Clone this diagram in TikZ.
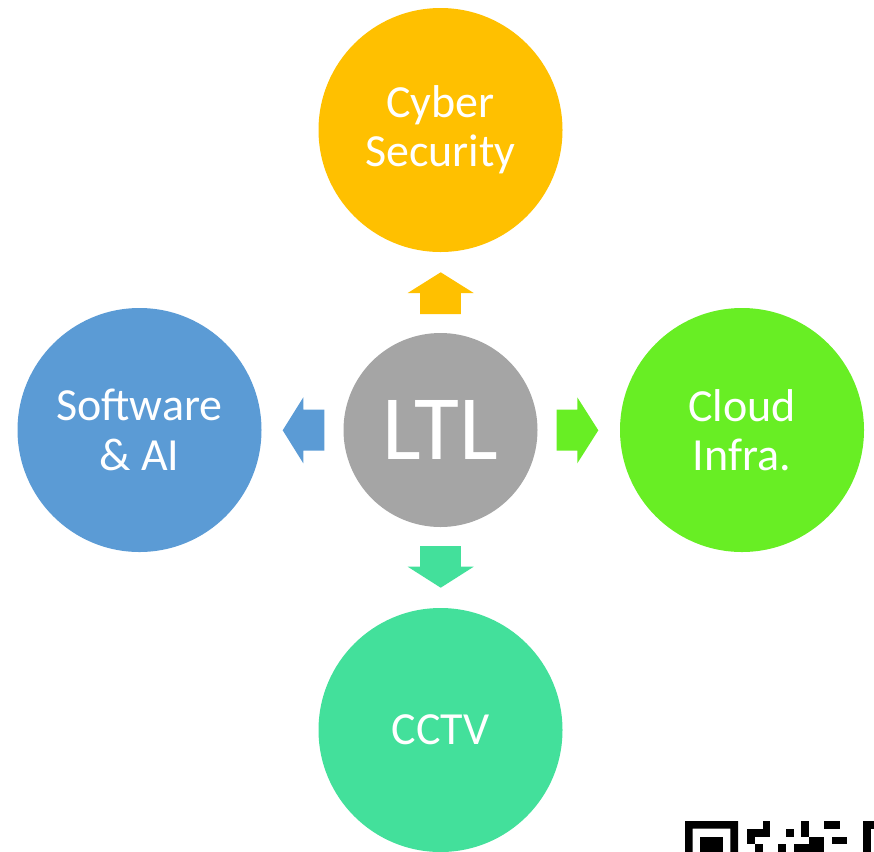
\documentclass[tikz,border=0pt]{standalone}
\usepackage{fontspec}
\setmainfont{Carlito}
\definecolor{cyberclr}{RGB}{255,192,0}
\definecolor{softclr}{RGB}{91,155,213}
\definecolor{cloudclr}{RGB}{104,238,36}
\definecolor{cctvclr}{RGB}{67,224,155}
\definecolor{ltlclr}{RGB}{165,165,165}

\begin{document}
\begin{tikzpicture}[x=0.75pt,y=0.75pt,yscale=-1,
  topic/.style={circle,inner sep=0pt,minimum size=183pt,text=white,align=center,
    font=\fontsize{34.5}{37}\selectfont},
  hub/.style={circle,inner sep=0pt,minimum size=145.5pt,fill=ltlclr,text=white,
    font=\fontsize{69}{70}\selectfont}]
\path[use as bounding box] (0,0) rectangle (874,851);

%Shape: Circle - centre
\node [hub] (ltl) at (440.5,430) {LTL};
%Shape: Circle - top
\node [topic,fill=cyberclr] (cyber) at (440.5,130) {Cyber\\Security};
%Shape: Circle - left
\node [topic,fill=softclr] (soft) at (139.5,430) {Software\\\& AI};
%Shape: Circle - right
\node [topic,fill=cloudclr] (cloud) at (742,430) {Cloud\\Infra.};
%Shape: Circle - bottom
\node [topic,fill=cctvclr] (cctv) at (440.5,730) {CCTV};

%Shape: Up Arrow
\fill [cyberclr] (420.2,314) -- (420.2,293) -- (407.7,293) -- (440.7,272.3) -- (473.7,293) -- (460.8,293) -- (460.8,314) -- cycle ;
%Shape: Down Arrow
\fill [cctvclr] (420.2,546) -- (420.2,566.7) -- (407.7,566.7) -- (440.7,587.7) -- (473.7,566.7) -- (460.8,566.7) -- (460.8,546) -- cycle ;
%Shape: Right Arrow
\fill [cloudclr] (556.7,409.7) -- (577.3,409.7) -- (577.3,397.3) -- (598.3,430.3) -- (577.3,463.3) -- (577.3,450.7) -- (556.7,450.7) -- cycle ;
%Shape: Left Arrow
\fill [softclr] (324.3,409.7) -- (303.3,409.7) -- (303.3,397.3) -- (282.7,430.3) -- (303.3,463.3) -- (303.3,450.7) -- (324.3,450.7) -- cycle ;

%Shape: QR corner (cut off)
\fill [black,even odd rule] (685,821) rectangle (738,855) (692.7,828.7) rectangle (730.3,855) ;
\fill [black] (700,836.7) rectangle (723,855) ;
\foreach \c/\r in {2/0,7/0,10/0,11/0,15/0,16/0,
                   0/1,1/1,2/1,5/1,7/1,15/1,
                   0/2,8/2,9/2,11/2,12/2,15/2,
                   1/3,4/3,6/3,7/3,8/3,9/3,15/3}
  \fill [black] (747.3+7.7*\c,821.3+7.7*\r) rectangle ++(7.75,7.75) ;
\end{tikzpicture}
\end{document}
